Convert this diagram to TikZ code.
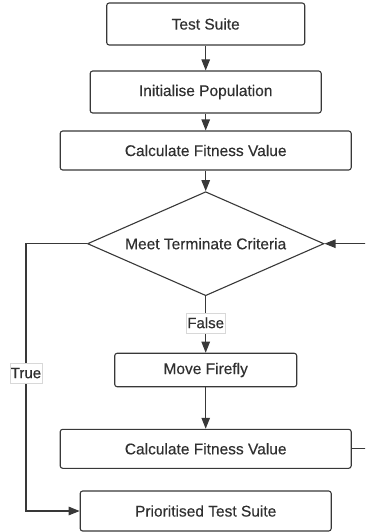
\documentclass[tikz,border=0pt]{standalone}
\usepackage{fontspec}
\setmainfont{Liberation Sans}[FakeBold=0.35]
\usetikzlibrary{shapes.geometric,arrows.meta}

\definecolor{ink}{HTML}{303030}
\definecolor{edge}{HTML}{383838}
\definecolor{lblframe}{HTML}{D8D8D8}

\tikzset{
  procbox/.style={draw=edge, line width=1.1pt, rounded corners=2.5pt,
    inner sep=0pt, text=ink, font=\fontsize{15.5}{18}\selectfont},
  decision/.style={diamond, draw=edge, line width=1.1pt, inner sep=0pt,
    aspect=2.27, text=ink, font=\fontsize{15.5}{18}\selectfont},
  flow/.style={draw=edge, line width=1.1pt,
    -{Triangle[length=11pt,width=8.5pt]}},
  lbl/.style={draw=lblframe, line width=0.5pt, fill=white, text=ink,
    inner xsep=1pt, inner ysep=0pt, minimum height=20pt,
    font=\fontsize{15}{17}\selectfont}
}

\begin{document}
\begin{tikzpicture}[x=1pt, y=-1pt]
  \useasboundingbox (0,0) rectangle (365,532);
  \clip (0,0) rectangle (365,532);

  % process steps
  \node[procbox, minimum width=198pt, minimum height=42pt] (suite) at (205.7,24) {Test Suite};
  \node[procbox, minimum width=231pt, minimum height=42pt] (init) at (205.7,92) {Initialise Population};
  \node[procbox, minimum width=291pt, minimum height=39pt] (fit1) at (205.7,150.5) {Calculate Fitness Value};
  \node[decision, minimum width=236.5pt, minimum height=104pt] (crit) at (205.7,243.7) {Meet Terminate Criteria};
  \node[procbox, minimum width=182pt, minimum height=33.5pt] (move) at (205.7,370) {Move Firefly};
  \node[procbox, minimum width=291pt, minimum height=39pt] (fit2) at (205.7,448.8) {Calculate Fitness Value};
  \node[procbox, minimum width=251pt, minimum height=40pt] (prio) at (205.7,511) {Prioritised Test Suite};

  % routing points of the two loops
  \coordinate (loopR) at (385,448.8);
  \coordinate (loopL) at (26,243.7);

  % main flow
  \draw[flow] (suite) -- (init);
  \draw[flow] (init) -- (fit1);
  \draw[flow] (fit1) -- (crit);
  \draw[flow] (crit) -- node[lbl, pos=0.47] {False} (move);
  \draw[flow] (move) -- (fit2);

  % back to the termination test
  \draw[flow] (fit2.east) -- (loopR) -- (loopR |- crit.east) -- (crit.east);

  % exit when the criteria are met
  \draw[flow] (crit.west) -- (loopL) -- node[lbl, pos=0.484] {True} (loopL |- prio.west) -- (prio.west);
\end{tikzpicture}
\end{document}
